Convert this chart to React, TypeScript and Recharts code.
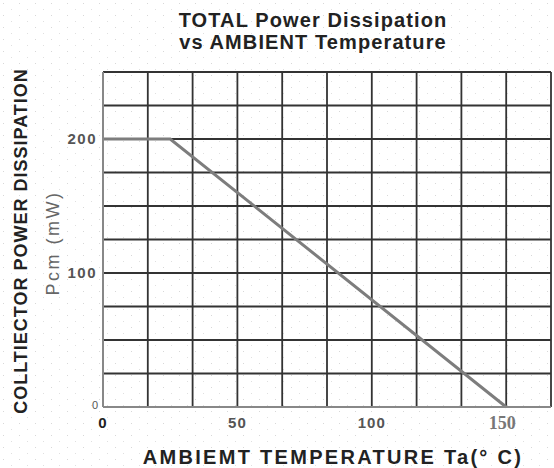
import React from "react";
import { CartesianGrid, Line, LineChart, XAxis, YAxis } from "recharts";

// derating curve: flat 200 mW up to 25 °C, then linear to 0 at 150 °C
const tempC = [0, 25, 150];
const powerMw = [200, 200, 0];

// grid: 10 columns (each 50/3 °C), 10 rows (each 25 mW)
const xGrid = [0, 50 / 3, 100 / 3, 50, 200 / 3, 250 / 3, 100, 350 / 3, 400 / 3, 150, 500 / 3];
const yGrid = [0, 25, 50, 75, 100, 125, 150, 175, 200, 225, 250];
const xLabels = [0, 50, 100, 150];
const yLabels = [0, 100, 200];

const data = tempC.map((t, i) => ({ t, p: powerMw[i] }));

const sans = "'Liberation Sans', Arial, sans-serif";

const isLabel = (v: number, list: number[]) => list.some((l) => Math.abs(l - v) < 1e-6);

function XTick(props: any) {
  const { x, y, payload } = props;
  const v = payload.value;
  if (!isLabel(v, xLabels)) return null;
  const r = Math.round(v);
  if (r === 150) {
    return (
      <text x={x - 4} y={y + 14} textAnchor="middle" fontFamily="'Liberation Serif', 'Times New Roman', serif" fontWeight="bold" fontSize={18} fill="#777">
        {r}
      </text>
    );
  }
  return (
    <text x={x} y={y + 13} textAnchor="middle" fontFamily={sans} fontWeight="bold" fontSize={15} letterSpacing={1} fill={r === 0 ? "#222" : "#555"}>
      {r}
    </text>
  );
}

function YTick(props: any) {
  const { x, y, payload } = props;
  const v = payload.value;
  if (!isLabel(v, yLabels)) return null;
  const r = Math.round(v);
  if (r === 0) {
    return (
      <text x={x + 3} y={y + 2} textAnchor="end" fontFamily={sans} fontSize={11} fill="#555">
        {r}
      </text>
    );
  }
  return (
    <text x={x + 2} y={y + 5} textAnchor="end" fontFamily={sans} fontWeight="bold" fontSize={15} letterSpacing={1.5} fill="#555">
      {r}
    </text>
  );
}

export default function App() {
  return (
    <div style={{ position: "absolute", left: 0, top: 0, width: 554, height: 468, background: "#fff" }}>
      <svg width={554} height={468} style={{ position: "absolute", left: 0, top: 0 }}>
        <defs>
          <pattern id="dots" width="16" height="12" patternUnits="userSpaceOnUse">
            <rect x="3" y="3" width="1" height="1" fill="#d8d8d8" />
            <rect x="11" y="9" width="1" height="1" fill="#e0e0e0" />
          </pattern>
        </defs>
        <rect width={554} height={468} fill="url(#dots)" />
      </svg>
      <div style={{ position: "absolute", left: 0, top: 0 }}>
        <LineChart width={554} height={468} data={data} margin={{ top: 72, right: 3, bottom: 31, left: 63 }}>
          <CartesianGrid stroke="#333" strokeWidth={1.8} />
          <XAxis
            type="number"
            dataKey="t"
            domain={[0, 500 / 3]}
            ticks={xGrid}
            interval={0}
            height={30}
            tickLine={false}
            axisLine={{ stroke: "#888", strokeWidth: 2 }}
            tick={<XTick />}
          />
          <YAxis
            type="number"
            domain={[0, 250]}
            ticks={yGrid}
            interval={0}
            width={40}
            tickLine={false}
            axisLine={{ stroke: "#888", strokeWidth: 2 }}
            tick={<YTick />}
          />
          <Line type="linear" dataKey="p" stroke="#7d7d7d" strokeWidth={3} dot={false} isAnimationActive={false} />
        </LineChart>
      </div>
      <svg width={554} height={468} style={{ position: "absolute", left: 0, top: 0, pointerEvents: "none" }}>
        <g fontFamily={sans} fontWeight="bold" fill="#222" textAnchor="middle">
          <text x={313} y={27} fontSize={20} letterSpacing={1.1}>TOTAL Power Dissipation</text>
          <text x={313} y={49} fontSize={20} letterSpacing={1.1}>vs AMBIENT Temperature</text>
          <text x={333} y={464} fontSize={20} letterSpacing={2.3}>AMBIEMT TEMPERATURE Ta(° C)</text>
          <text x={0} y={0} fontSize={18} letterSpacing={1} transform="translate(27,241) rotate(-90)">COLLTIECTOR POWER DISSIPATION</text>
        </g>
        <text x={0} y={0} fontFamily={sans} fontSize={18} letterSpacing={2.5} fill="#666" textAnchor="middle" transform="translate(59,243) rotate(-90)">
          Pcm (mW)
        </text>
      </svg>
    </div>
  );
}
